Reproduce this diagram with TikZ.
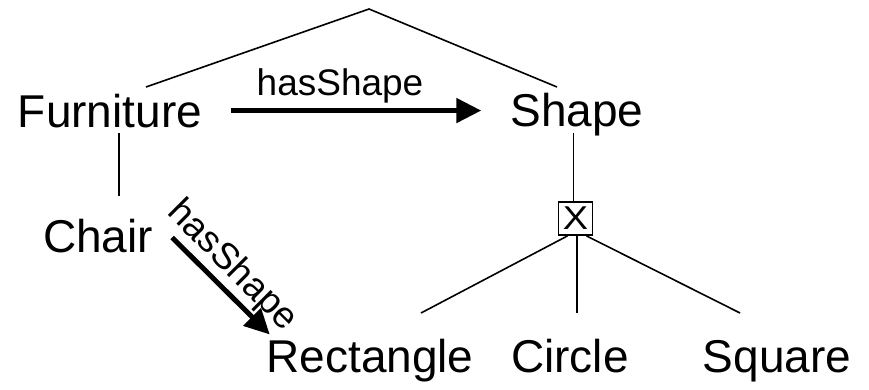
\documentclass[tikz,border=0pt]{standalone}
\usepackage{fontspec}
\setmainfont{Liberation Sans}
\usetikzlibrary{arrows.meta,calc}
\begin{document}
\begin{tikzpicture}[x=1pt,y=-1pt,
  cls/.style={inner sep=0pt,anchor=base,font=\fontsize{46}{50}\selectfont},
  rel/.style={inner sep=0pt,font=\fontsize{37}{40}\selectfont},
  thin/.style={line width=1.6pt},
  arr/.style={line width=5pt,-{Triangle[length=25pt,width=24pt]}}]
\useasboundingbox (0,0) rectangle (869,389);
% class nodes
\node[cls] (furn) at (110,127) {Furniture};
\node[cls] (shape) at (577,126) {Shape};
\node[cls] (chair) at (98,252) {Chair};
\node[cls] (rect) at (370,372) {Rectangle};
\node[cls] (circ) at (570,372) {Circle};
\node[cls] (sq) at (777,372) {Square};
\node[draw,line width=1.8pt,minimum width=34pt,minimum height=33pt,inner sep=0pt,
      font=\fontsize{33}{33}\selectfont] (box) at (575.5,218.5) {\scalebox{1.15}[1]{X}};
% top subsumption lines
\coordinate (top) at (369,9);
\coordinate (fl) at (146,87);
\coordinate (sr) at (557,87);
\draw[thin] (fl) -- (top) -- (sr);
% Furniture - Chair
\coordinate (fb) at (119,133);
\coordinate (ct) at (119,196);
\draw[thin] (fb) -- (ct);
% Shape - box
\draw[thin] ($(shape.south -| box.north)+(-2,-3)$) -- ($(box.north)+(-2,0)$);
% box - subclasses
\coordinate (b1) at (421,313);
\coordinate (b2) at (577,313);
\coordinate (b3) at (740,313);
\draw[thin] ($(box.south)+(-8,0)$) -- (b1);
\draw[thin] ($(box.south)+(1.5,0)$) -- (b2);
\draw[thin] ($(box.south)+(11,0)$) -- (b3);
% relations
\draw[arr] ($(furn.east)+(29,0)$) -- ($(furn.east -| shape.west)+(-29,0)$);
\node[rel,anchor=base] (l1) at (340,95) {hasShape};
\draw[arr] ($(chair.east)+(19,2)$) -- ($(rect.north west)+(3.5,-4)$);
\node[rel,rotate=-45] (l2) at (232,266) {hasShape};
\end{tikzpicture}
\end{document}
